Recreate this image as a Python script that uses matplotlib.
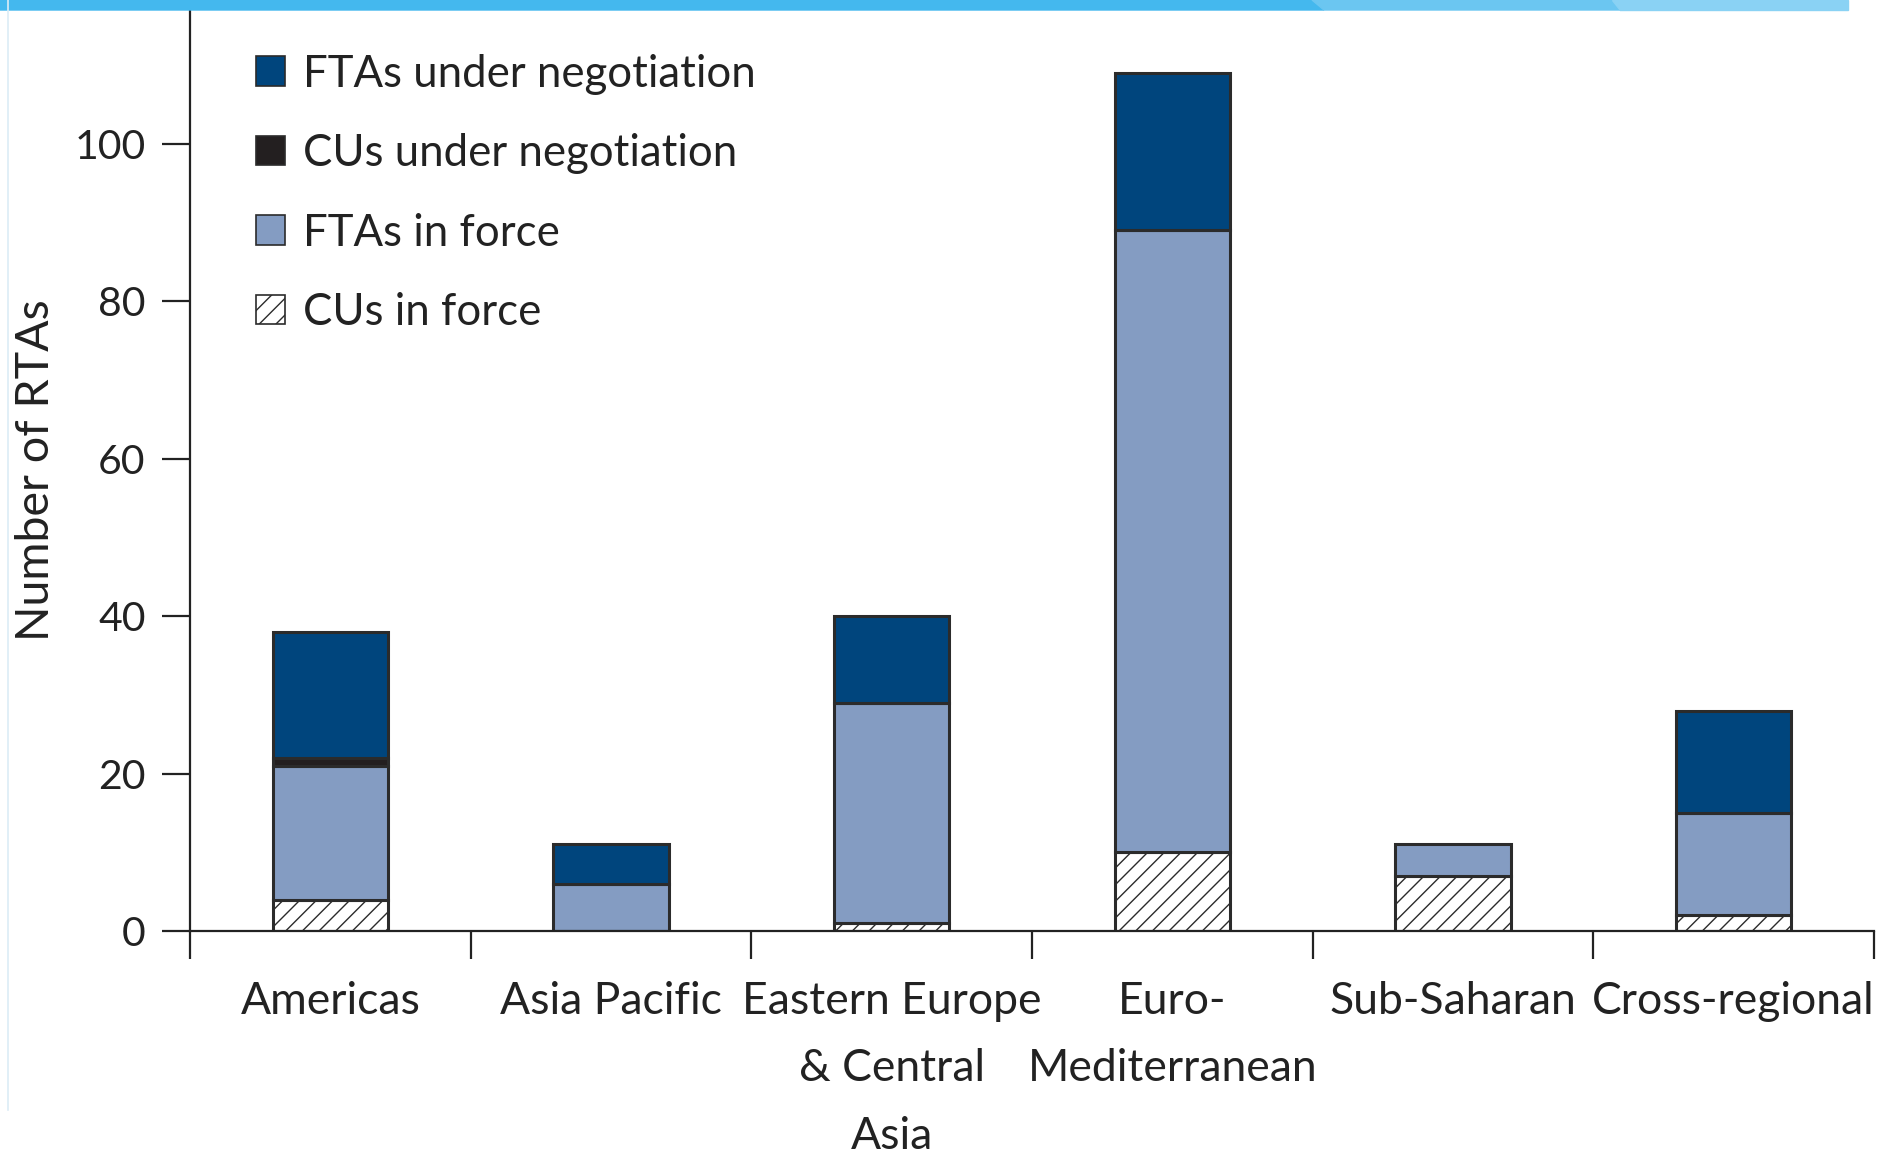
import numpy as np
import matplotlib.pyplot as plt
from matplotlib.patches import Patch, Polygon
from matplotlib.lines import Line2D
from matplotlib.ticker import FixedLocator

# data
regions = ['Americas', 'Asia Pacific', 'Eastern Europe\n& Central\nAsia',
           'Euro-\nMediterranean', 'Sub-Saharan', 'Cross-regional']
cus_in_force = [4, 0, 1, 10, 7, 2]
ftas_in_force = [17, 6, 28, 79, 4, 13]
cus_under_neg = [1, 0, 0, 0, 0, 0]
ftas_under_neg = [16, 5, 11, 20, 0, 13]
yticks = [0, 20, 40, 60, 80, 100]

c_dark = '#00457d'
c_black = '#231f20'
c_light = '#849cc2'
c_edge = '#2b2b2b'

plt.rcParams['font.family'] = ['Lato', 'DejaVu Sans']
plt.rcParams['hatch.color'] = '#555555'
plt.rcParams['hatch.linewidth'] = 1.0

fig = plt.figure(figsize=(18.87, 11.54), dpi=100)
ax = fig.add_axes([190/1887, 223/1154, (1874-190)/1887, (931-10)/1154])

x = np.arange(len(regions)) + 0.5
w = 0.41
b1 = np.array(cus_in_force)
b2 = b1 + np.array(ftas_in_force)
b3 = b2 + np.array(cus_under_neg)

kw = dict(width=w, edgecolor=c_edge, linewidth=2.2)
ax.bar(x, cus_in_force, color='white', hatch='//', **kw)
ax.bar(x, ftas_in_force, bottom=b1, color=c_light, **kw)
neg = np.array(cus_under_neg) > 0
ax.bar(x[neg], np.array(cus_under_neg)[neg], bottom=b2[neg], color=c_black, **kw)
fn = np.array(ftas_under_neg) > 0
ax.bar(x[fn], np.array(ftas_under_neg)[fn], bottom=b3[fn], color=c_dark, **kw)

ax.set_xlim(0, 6)
ax.set_ylim(0, 117)
for s in ['top', 'right']:
    ax.spines[s].set_visible(False)
for s in ['left', 'bottom']:
    ax.spines[s].set_linewidth(1.6)
    ax.spines[s].set_color('#222222')

ax.set_yticks(yticks)
ax.tick_params(axis='y', length=20, width=1.6, pad=12, labelsize=29.5, color='#222222')
for t in ax.get_yticklabels():
    t.set_color('#222222')

ax.set_xticks(x)
ax.set_xticklabels(regions, fontsize=32, color='#222222', linespacing=1.8)
ax.xaxis.set_minor_locator(FixedLocator(np.arange(0, 7)))
ax.tick_params(axis='x', which='major', length=0, pad=36)
ax.tick_params(axis='x', which='minor', length=20, width=1.6, color='#222222', direction='out')

ax.set_ylabel('Number of RTAs', fontsize=33.5, color='#222222')
ax.yaxis.set_label_coords(-0.079, 0.5)

handles = [Patch(facecolor=c_dark, edgecolor=c_edge, linewidth=1.2),
           Patch(facecolor=c_black, edgecolor=c_edge, linewidth=1.2),
           Patch(facecolor=c_light, edgecolor=c_edge, linewidth=1.2),
           Patch(facecolor='white', edgecolor=c_edge, linewidth=1.2, hatch='//')]
labels = ['FTAs under negotiation', 'CUs under negotiation', 'FTAs in force', 'CUs in force']
leg = ax.legend(handles, labels, loc='upper left', bbox_to_anchor=(0.021, 0.986),
                frameon=False, fontsize=31.5, handlelength=0.66, handleheight=0.66,
                handletextpad=0.42, labelspacing=0.88, borderaxespad=0.3)
for t in leg.get_texts():
    t.set_color('#222222')

# top banner stripe
fig.patches.append(Polygon([[0, 1], [1312/1887, 1], [1324/1887, 1 - 10/1154], [0, 1 - 10/1154]],
                           closed=True, transform=fig.transFigure, color='#44b8ee'))
fig.patches.append(Polygon([[1312/1887, 1], [1612/1887, 1], [1620/1887, 1 - 10/1154], [1324/1887, 1 - 10/1154]],
                           closed=True, transform=fig.transFigure, color='#6bc6f1'))
fig.patches.append(Polygon([[1612/1887, 1], [1848/1887, 1], [1848/1887, 1 - 10/1154], [1620/1887, 1 - 10/1154]],
                           closed=True, transform=fig.transFigure, color='#8ad2f4'))
fig.lines.append(Line2D([8/1887, 8/1887], [1 - 1110/1154, 1], transform=fig.transFigure,
                        color='#dcecf6', linewidth=1.2))

plt.savefig('out.png', dpi=100)
